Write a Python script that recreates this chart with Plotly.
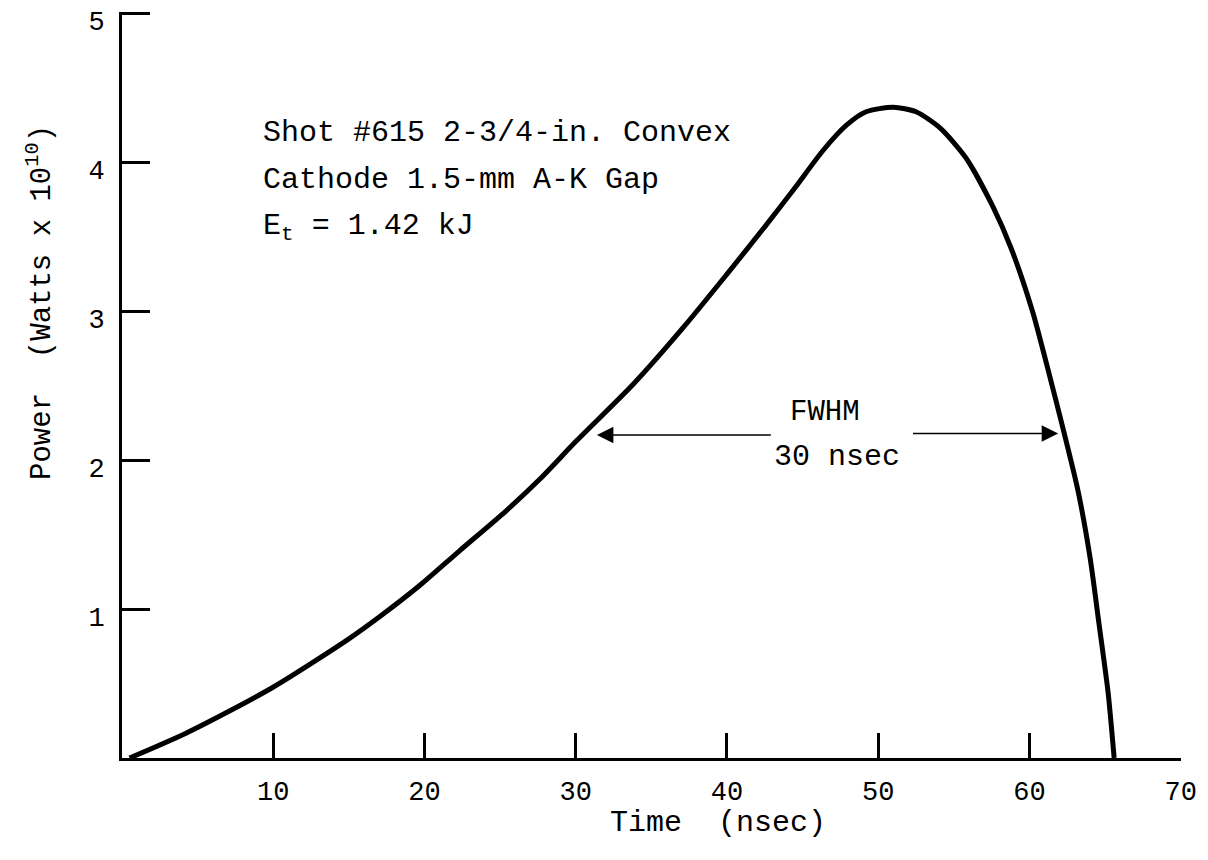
import plotly.graph_objects as go

# ---- data ----
time_ns = [0.5, 4.3, 9.9, 15.0, 17.05, 19.7, 22.3, 25.4, 27.6, 30.05, 33.8, 37.1,
           40.0, 42.6, 44.5, 46.35, 47.9, 49.2, 51.0, 52.5, 54.1, 55.8, 57.6,
           58.8, 60.2, 61.3, 62.3, 63.2, 64.0, 64.6, 65.2, 65.6]
power = [0.0, 0.17, 0.47, 0.80, 0.95, 1.16, 1.39, 1.66, 1.87, 2.13, 2.51, 2.89,
         3.25, 3.58, 3.83, 4.08, 4.25, 4.34, 4.37, 4.34, 4.23, 4.03, 3.70,
         3.42, 3.00, 2.58, 2.18, 1.80, 1.35, 0.90, 0.44, 0.0]

x_ticks = [10, 20, 30, 40, 50, 60, 70]
y_ticks = [1, 2, 3, 4, 5]

info_lines = ["Shot #615 2-3/4-in. Convex", "Cathode 1.5-mm A-K Gap", "E<sub>t</sub> = 1.42 kJ"]
fwhm_left = [31.4, 43.0]
fwhm_right = [61.9, 52.2]
fwhm_y = 2.17

FONT = "Liberation Mono, Courier New, monospace"

fig = go.Figure()
fig.add_trace(go.Scatter(
    x=time_ns, y=power, mode="lines",
    line=dict(color="black", width=5, shape="spline", smoothing=0.7),
    showlegend=False, hoverinfo="skip"))

anns = []
for i, t in enumerate(info_lines):
    anns.append(dict(x=9.2, y=[4.20, 3.88, 3.56][i], xref="x", yref="y", text=t,
                     showarrow=False, xanchor="left", yanchor="middle",
                     font=dict(family=FONT, size=30, color="black")))
anns.append(dict(x=46.5, y=2.32, xref="x", yref="y", text="FWHM", showarrow=False,
                 font=dict(family=FONT, size=29, color="black")))
anns.append(dict(x=47.3, y=2.02, xref="x", yref="y", text="30 nsec", showarrow=False,
                 font=dict(family=FONT, size=30, color="black")))
anns.append(dict(x=fwhm_left[0], y=fwhm_y, ax=fwhm_left[1], ay=fwhm_y, xref="x", yref="y",
                 axref="x", ayref="y", text="", showarrow=True, arrowhead=2,
                 arrowsize=2.2, arrowwidth=1.5, arrowcolor="black"))
anns.append(dict(x=fwhm_right[0], y=fwhm_y + 0.01, ax=fwhm_right[1], ay=fwhm_y + 0.01, xref="x", yref="y",
                 axref="x", ayref="y", text="", showarrow=True, arrowhead=2,
                 arrowsize=2.2, arrowwidth=1.5, arrowcolor="black"))
anns.append(dict(x=0.563, y=-0.087, xref="paper", yref="paper", text="Time  (nsec)",
                 showarrow=False, xanchor="center", yanchor="middle",
                 font=dict(family=FONT, size=30, color="black")))
anns.append(dict(x=-0.0774, y=0.61, xref="paper", yref="paper",
                 text="Power  (Watts x 10<sup>10</sup>)", textangle=-90,
                 showarrow=False, xanchor="center", yanchor="middle",
                 font=dict(family=FONT, size=29, color="black")))

# the page body has an 8px margin, so the figure is 8px smaller and margins offset
fig.update_layout(
    width=1200, height=852,
    margin=dict(l=114, r=27, t=4, b=102, autoexpand=False),
    paper_bgcolor="white", plot_bgcolor="white",
    annotations=anns,
    xaxis=dict(range=[0, 70.02], tickvals=x_ticks, ticktext=[str(v) for v in x_ticks],
               ticks="inside", ticklen=25, tickwidth=3, tickcolor="black",
               showline=True, linewidth=3, linecolor="black",
               showgrid=False, zeroline=False, ticklabelstandoff=7,
               ticklabeloverflow="allow",
               tickfont=dict(family=FONT, size=27, color="black")),
    yaxis=dict(range=[0, 5.01], tickvals=y_ticks, ticktext=[str(v) for v in y_ticks],
               ticks="inside", ticklen=28, tickwidth=3, tickcolor="black",
               showline=True, linewidth=3, linecolor="black",
               showgrid=False, zeroline=False, ticklabelstandoff=9,
               ticklabelshift=7, ticklabeloverflow="allow",
               tickfont=dict(family=FONT, size=27, color="black")),
)

fig.write_html("out.html")
